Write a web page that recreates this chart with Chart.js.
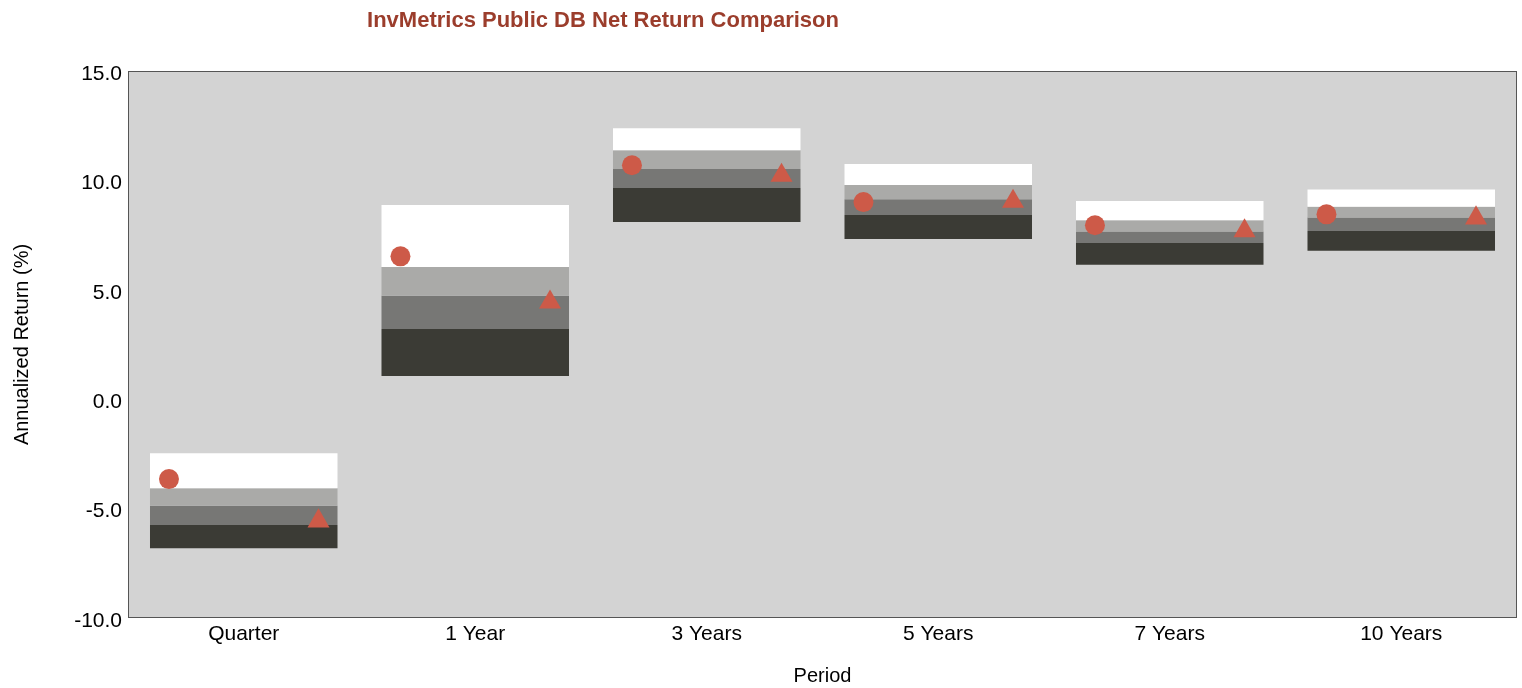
<!DOCTYPE html>
<html>
<head>
<meta charset="utf-8">
<script src="https://cdn.jsdelivr.net/npm/chart.js@4.4.1/dist/chart.umd.min.js"></script>
<style>
    html, body { margin: 0; padding: 0; background: #ffffff; overflow: hidden; }
    #wrap { position: relative; width: 1522px; height: 688px; }
    #chart { display: block; }
    #title {
        position: absolute; left: 0; top: 7px; width: 1206px; text-align: center;
        font-family: "Liberation Sans Narrow", "Arial Narrow", "Liberation Sans", sans-serif;
        font-weight: bold; font-size: 22px; color: #9b3d2c;
    }
</style>
</head>
<body>
<div id="wrap">
    <div id="title">InvMetrics Public DB Net Return Comparison</div>
    <canvas id="chart" width="1522" height="688"></canvas>
</div>
<script>
// --- Data ---
const periods = ['Quarter', '1 Year', '3 Years', '5 Years', '7 Years', '10 Years'];

// percentile bands (top of white = 5th, then 25th, median, 75th, 95th)
const p5 = [-2.47, 8.88, 12.38, 10.75, 9.06, 9.58];
const p25 = [-4.07, 6.04, 11.38, 9.79, 8.18, 8.80];
const p50 = [-4.87, 4.73, 10.52, 9.14, 7.66, 8.30];
const p75 = [-5.75, 3.21, 9.65, 8.42, 7.14, 7.69];
const p95 = [-6.81, 1.06, 8.10, 7.32, 6.15, 6.79];

const circleValues = [-3.65, 6.53, 10.69, 9.01, 7.95, 8.45];
const triangleValues = [-5.57, 4.43, 10.23, 9.04, 7.69, 8.28];

const yTicks = [-10, -5, 0, 5, 10, 15];

// --- helpers ---
const band = (hi, lo) => hi.map((v, i) => [lo[i], v]);
const markerOffset = 0.323;

const tickFont = { family: '"Liberation Sans", Arial, sans-serif', size: 21 };
const titleFont = { family: '"Liberation Sans", Arial, sans-serif', size: 20 };

// plot background + frame
const plotFrame = {
    id: 'plotFrame',
    beforeDatasetsDraw(chart) {
        const { ctx, chartArea: a } = chart;
        ctx.save();
        ctx.fillStyle = '#d3d3d3';
        ctx.fillRect(a.left, a.top, a.right - a.left, a.bottom - a.top);
        ctx.restore();
    },
    afterDraw(chart) {
        const { ctx, chartArea: a } = chart;
        ctx.save();
        ctx.strokeStyle = '#555555';
        ctx.lineWidth = 1;
        ctx.strokeRect(a.left + 0.5, a.top + 0.5, a.right - a.left - 1, a.bottom - a.top - 1);
        ctx.restore();
    }
};

function barSet(label, hi, lo, color) {
    return {
        type: 'bar',
        label: label,
        data: band(hi, lo),
        backgroundColor: color,
        borderWidth: 0,
        grouped: false,
        barPercentage: 0.81,
        categoryPercentage: 1.0,
        xAxisID: 'x',
        order: 2
    };
}

const ctx = document.getElementById('chart').getContext('2d');
new Chart(ctx, {
    data: {
        labels: periods,
        datasets: [
            barSet('5th-25th', p5, p25, '#ffffff'),
            barSet('25th-Median', p25, p50, '#aaaaa8'),
            barSet('Median-75th', p50, p75, '#777775'),
            barSet('75th-95th', p75, p95, '#3b3b35'),
            {
                type: 'scatter',
                label: 'Plan A',
                data: circleValues.map((v, i) => ({ x: i - markerOffset, y: v })),
                xAxisID: 'xm',
                pointStyle: 'circle',
                pointRadius: 10,
                pointBackgroundColor: '#cd5a48',
                pointBorderWidth: 0,
                order: 1
            },
            {
                type: 'scatter',
                label: 'Plan B',
                data: triangleValues.map((v, i) => ({ x: i + markerOffset, y: v })),
                xAxisID: 'xm',
                pointStyle: 'triangle',
                pointRadius: 12.7,
                pointBackgroundColor: '#cd5a48',
                pointBorderWidth: 0,
                order: 1
            }
        ]
    },
    options: {
        responsive: false,
        animation: false,
        layout: { autoPadding: false, padding: { top: 71, right: 5, left: 0, bottom: 0 } },
        plugins: { legend: { display: false }, tooltip: { enabled: false } },
        scales: {
            x: {
                type: 'category',
                offset: true,
                grid: { display: false, drawTicks: false },
                border: { display: false },
                ticks: { color: '#000000', font: tickFont, padding: 4 },
                title: { display: true, text: 'Period', color: '#000000', font: titleFont, padding: { top: 18, bottom: 0 } },
                afterFit(scale) {
                    scale.height = 70;
                    scale.paddingLeft = 0;
                    scale.paddingRight = 0;
                }
            },
            xm: {
                type: 'linear',
                min: -0.5,
                max: 5.5,
                display: false
            },
            y: {
                min: yTicks[0],
                max: yTicks[yTicks.length - 1],
                afterBuildTicks(scale) { scale.ticks = yTicks.map(v => ({ value: v })); },
                grid: { display: false, drawTicks: false },
                border: { display: false },
                ticks: { color: '#000000', font: tickFont, padding: 6, labelOffset: 3, callback: v => v.toFixed(1) },
                title: { display: true, text: 'Annualized Return (%)', color: '#000000', font: titleFont, padding: { top: 10, bottom: 0 } },
                afterFit(scale) {
                    scale.width = 128;
                    scale.paddingTop = 0;
                    scale.paddingBottom = 0;
                }
            }
        }
    },
    plugins: [plotFrame]
});
</script>
</body>
</html>
